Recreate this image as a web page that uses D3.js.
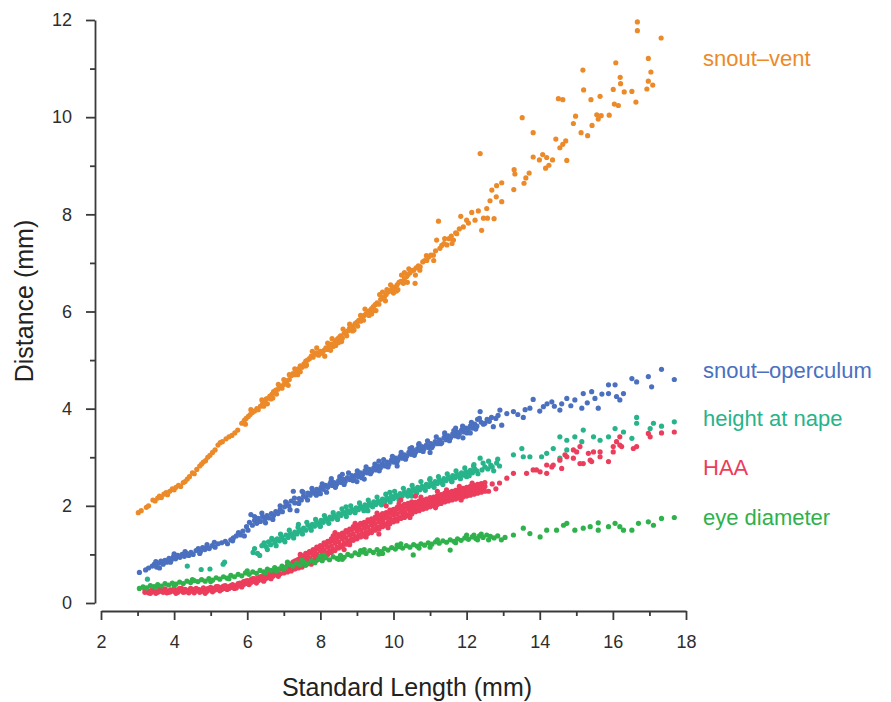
<!DOCTYPE html>
<html>
<head>
<meta charset="utf-8">
<script src="https://cdn.jsdelivr.net/npm/d3@7"></script>
<style>
  body { margin: 0; background: #fff; }
  svg { display: block; font-family: "Liberation Sans", Arial, Helvetica, sans-serif; }
</style>
</head>
<body>
<svg width="891" height="702"></svg>
<script>
// readings: each row is [standard length, distance, distance, ...]
var snoutVent = [
  [3.02,1.86],[3.1,1.9],[3.24,1.97],[3.3,2.0],[3.42,2.12],[3.48,2.1],[3.55,2.16],[3.6,2.2],[3.65,2.17],
  [3.72,2.24],[3.78,2.27],[3.82,2.23],[3.88,2.3],[3.95,2.35],[4.0,2.33],[4.05,2.38],[4.12,2.42],[4.18,2.4],
  [4.25,2.48],[4.3,2.5],[4.36,2.55],[4.42,2.6],[4.5,2.68],[4.55,2.66],[4.62,2.75],[4.7,2.82],[4.75,2.86],
  [4.8,2.9],[4.86,2.93],[4.92,3.0],[4.98,3.04],[5.05,3.1],[5.12,3.15],[5.2,3.25],[5.26,3.3],[5.32,3.32],
  [5.42,3.38],[5.5,3.42],[5.58,3.45],[5.66,3.5],[5.74,3.56],[5.85,3.7],[5.92,3.76],[5.95,3.68],[5.97,3.8],
  [6.03,3.84],[6.08,3.88],[6.1,3.98],[6.14,3.92],[6.2,3.95],[6.26,4.0],[6.3,3.98],[6.36,4.05],[6.4,4.18],
  [6.42,4.1],[6.45,4.05],[6.48,4.14],[6.52,4.2],[6.55,4.1],[6.58,4.22],[6.62,4.26],[6.65,4.2],[6.68,4.3],
  [6.7,4.22],[6.72,4.35],[6.78,4.38],[6.8,4.3],[6.84,4.4],[6.85,4.5],[6.9,4.46],[6.95,4.42],[7.0,4.5,4.6],
  [7.05,4.55],[7.1,4.58],[7.12,4.48],[7.15,4.6,4.7],[7.2,4.68],[7.25,4.72],[7.3,4.7,4.82],[7.35,4.78],
  [7.38,4.7],[7.4,4.82],[7.45,4.88,4.76],[7.5,4.85],[7.55,4.92],[7.6,4.98,4.88],[7.62,4.9],[7.65,5.0],
  [7.7,5.03],[7.75,5.08],[7.78,5.18],[7.8,5.06],[7.85,5.12],[7.9,5.15,5.25],[7.95,5.1],[8.0,5.18],
  [8.05,5.14],[8.1,5.2],[8.12,5.08],[8.15,5.25],[8.2,5.22,5.35],[8.25,5.3],[8.28,5.2],[8.3,5.33],
  [8.32,5.44],[8.35,5.28],[8.4,5.38],[8.42,5.3],[8.45,5.42],[8.5,5.46,5.36],[8.55,5.5],[8.58,5.38],
  [8.6,5.45],[8.62,5.64],[8.65,5.55],[8.7,5.58],[8.72,5.5],[8.75,5.6],[8.8,5.66,5.74],[8.85,5.62],
  [8.88,5.6],[8.9,5.7],[8.92,5.62],[8.95,5.75],[9.0,5.78],[9.02,5.7],[9.05,5.82],[9.1,5.8,5.92],
  [9.15,5.88],[9.18,5.82],[9.2,5.92],[9.22,6.05],[9.25,5.95],[9.3,6.0],[9.33,5.92],[9.35,6.02],
  [9.4,6.06,5.95],[9.45,6.1],[9.48,6.02],[9.5,6.14],[9.52,6.02],[9.55,6.18],[9.6,6.15],[9.62,6.35],
  [9.65,6.25],[9.7,6.28,6.4],[9.75,6.3],[9.78,6.22],[9.8,6.35],[9.82,6.45],[9.85,6.4],[9.9,6.42],
  [9.92,6.55],[9.95,6.46],[10.0,6.5,6.38],[10.05,6.48],[10.08,6.42],[10.1,6.55],[10.12,6.45],[10.15,6.6],
  [10.2,6.62],[10.22,6.75],[10.27,6.58],[10.3,6.68,6.8],[10.36,6.72],[10.38,6.6],[10.4,6.76],[10.42,6.88],
  [10.45,6.8],[10.5,6.84],[10.55,6.85],[10.59,6.58],[10.6,6.75],[10.62,6.9],[10.68,6.94],[10.72,6.85],
  [10.73,6.92],[10.8,7.02],[10.85,7.05],[10.9,7.15],[10.91,7.05],[10.96,7.12],[11.02,7.16],[11.09,7.16],
  [11.1,7.05],[11.15,7.25],[11.18,7.47],[11.23,7.86],[11.27,7.3],[11.32,7.36],[11.38,7.4],[11.4,7.5],
  [11.46,7.37],[11.52,7.5],[11.58,7.55],[11.6,7.4],[11.64,7.47],[11.7,7.62],[11.73,7.6],[11.8,7.7],
  [11.84,7.96],[11.91,7.74],[12.0,7.88],[12.05,7.82],[12.14,8.04],[12.23,7.88],[12.32,8.07],[12.37,9.25],
  [12.41,7.67],[12.46,7.92],[12.55,8.12],[12.57,7.92],[12.64,8.28],[12.69,8.5],[12.75,7.91],[12.81,8.36],
  [12.82,8.59],[12.96,8.65,8.26],[13.29,8.51],[13.3,8.92],[13.32,8.83],[13.52,9.99],[13.57,8.64],
  [13.62,8.75],[13.71,8.85],[13.82,9.68,9.18],[13.99,9.12],[14.08,9.23],[14.16,8.95],[14.19,9.17],
  [14.25,9.01],[14.35,9.12],[14.44,9.55],[14.51,10.38],[14.55,9.37],[14.63,10.36,9.44],[14.71,9.51],
  [14.74,9.11],[14.92,9.87],[14.98,10.02],[15.13,9.68],[15.18,10.97],[15.2,10.56],[15.31,9.62],
  [15.4,10.36],[15.43,9.83],[15.56,10.05],[15.6,9.96],[15.65,10.43],[15.68,10.03],[15.9,10.04],
  [16.01,10.57],[16.04,10.27],[16.08,11.12],[16.15,10.24],[16.2,10.82],[16.21,10.69],[16.31,10.52],
  [16.52,10.53],[16.63,10.31],[16.67,11.96,11.78],[16.93,10.58],[16.97,11.21,10.74],[17.04,10.93],
  [17.09,10.66],[17.32,11.63]
];

var snoutOperculum = [
  [3.05,0.63],[3.22,0.68],[3.3,0.72],[3.4,0.76],[3.46,0.8],[3.5,0.85],[3.52,0.74],[3.58,0.82],[3.6,0.72],
  [3.64,0.86],[3.7,0.8],[3.75,0.88],[3.8,0.84],[3.86,0.92],[3.9,0.84],[3.92,0.88],[3.98,0.95],[4.0,1.01],
  [4.04,0.91],[4.1,0.98],[4.16,0.94],[4.22,1.0],[4.28,0.96],[4.3,1.06],[4.34,1.02],[4.4,0.98],[4.46,1.04],
  [4.52,1.0],[4.6,1.08],[4.66,1.12],[4.7,1.02],[4.72,1.06],[4.78,1.14],[4.84,1.1],[4.9,1.16,1.2],
  [4.96,1.12],[5.04,1.18],[5.1,1.25],[5.12,1.15],[5.2,1.22],[5.3,1.24],[5.4,1.27],[5.46,1.22],[5.55,1.3],
  [5.6,1.28],[5.62,1.34],[5.7,1.38],[5.76,1.45],[5.82,1.4],[5.88,1.48],[5.92,1.38],[5.98,1.57],[6.02,1.5],
  [6.06,1.66],[6.1,1.82],[6.14,1.6],[6.2,1.7,1.78],[6.26,1.64],[6.3,1.74],[6.36,1.68],[6.4,1.85],
  [6.42,1.78],[6.48,1.72],[6.5,1.65],[6.54,1.8],[6.6,1.75],[6.66,1.84],[6.7,1.72],[6.72,1.8],[6.78,1.88],
  [6.84,1.84],[6.9,1.92,2.0],[6.96,1.88],[7.02,1.98],[7.05,2.08],[7.08,2.05],[7.14,2.0],[7.17,1.92],
  [7.2,2.1],[7.26,2.3],[7.29,2.16],[7.3,2.06],[7.36,1.9],[7.41,2.05],[7.42,2.15],[7.48,2.12],[7.5,2.3],
  [7.53,2.28],[7.54,2.2],[7.6,2.18],[7.65,2.12],[7.66,2.26],[7.72,2.22],[7.77,2.36],[7.78,2.3],[7.84,2.26],
  [7.89,2.22],[7.9,2.34],[7.96,2.3],[8.0,2.25],[8.02,2.38],[8.05,2.45],[8.08,2.34],[8.14,2.42],[8.17,2.28],
  [8.2,2.38],[8.26,2.45],[8.29,2.5],[8.3,2.56],[8.32,2.42],[8.38,2.48],[8.41,2.38],[8.44,2.44],[8.5,2.52],
  [8.53,2.6],[8.56,2.48],[8.6,2.65],[8.62,2.55],[8.65,2.44],[8.68,2.5],[8.74,2.58],[8.77,2.68],[8.8,2.54],
  [8.86,2.62],[8.89,2.52],[8.92,2.58],[8.98,2.64],[9.0,2.5],[9.01,2.72],[9.04,2.6],[9.1,2.68],[9.13,2.58],
  [9.16,2.65],[9.2,2.55],[9.22,2.72],[9.25,2.8],[9.28,2.68],[9.34,2.75],[9.37,2.66],[9.4,2.7],[9.46,2.78],
  [9.49,2.86],[9.52,2.74],[9.58,2.82],[9.6,2.92],[9.61,2.72],[9.64,2.78],[9.7,2.86],[9.73,2.95],[9.76,2.82],
  [9.82,2.9],[9.85,2.8],[9.88,2.86],[9.94,2.94],[9.97,3.02],[10.0,2.9],[10.06,2.98],[10.09,2.88],
  [10.1,2.82],[10.12,2.94],[10.18,3.02],[10.21,3.1],[10.24,2.98],[10.3,3.05],[10.33,2.96],[10.36,3.02],
  [10.42,3.1],[10.45,3.18],[10.48,3.06],[10.5,3.2],[10.54,3.14],[10.57,3.04],[10.6,3.1],[10.66,3.18],
  [10.69,3.26],[10.7,3.28],[10.72,3.14],[10.78,3.22],[10.81,3.12],[10.84,3.18],[10.9,3.25],[10.93,3.34],
  [10.96,3.2],[11.0,3.1],[11.02,3.28],[11.05,3.2],[11.08,3.24],[11.14,3.32],[11.17,3.42],[11.2,3.28],
  [11.26,3.36],[11.29,3.28],[11.32,3.3],[11.38,3.4],[11.4,3.5],[11.41,3.46],[11.44,3.36],[11.5,3.44],
  [11.53,3.34],[11.56,3.4],[11.62,3.48],[11.65,3.55],[11.68,3.44],[11.7,3.6],[11.74,3.52],[11.77,3.42],
  [11.8,3.48],[11.86,3.56],[11.89,3.64],[11.9,3.4],[11.92,3.52],[11.98,3.6],[12.01,3.5],[12.04,3.56],
  [12.1,3.64,3.5],[12.13,3.72],[12.16,3.6],[12.22,3.68],[12.25,3.58],[12.28,3.64],[12.3,3.78],
  [12.35,3.8],[12.37,3.94],[12.4,3.72],[12.46,3.68],[12.5,3.7],[12.56,3.78],[12.62,3.74],[12.68,3.82],
  [12.73,3.63],[12.8,3.8],[12.86,3.86],[12.91,3.97],[12.96,3.66],[13.1,3.9],[13.28,3.94],[13.4,3.88],
  [13.55,3.82],[13.6,3.98],[13.73,4.01],[13.82,4.19],[14.0,3.95],[14.1,4.04],[14.2,4.1],[14.33,4.14],
  [14.4,4.05],[14.55,3.97],[14.6,4.1],[14.74,4.21],[14.85,4.06],[14.96,4.18],[15.15,4.01],[15.19,4.31],
  [15.3,4.12],[15.42,4.35],[15.51,4.21],[15.6,4.01],[15.7,4.3],[15.88,4.49,4.31],[16.06,4.49],[16.1,4.25],
  [16.19,4.18],[16.29,4.31],[16.52,4.62],[16.65,4.55],[16.97,4.66],[17.06,4.45],[17.33,4.81],[17.68,4.6]
];

var heightAtNape = [
  [3.27,0.49],[4.36,0.76],[4.74,0.69],[4.98,0.7],[5.34,0.8],[5.38,0.84],[6.16,1.04],[6.2,1.12],[6.28,1.02],
  [6.34,0.98],[6.4,1.18],[6.46,1.24],[6.52,1.16],[6.55,1.1],[6.58,1.26],[6.64,1.2],[6.67,1.33],[6.7,1.3],
  [6.76,1.24],[6.79,1.18],[6.82,1.32],[6.88,1.28],[6.91,1.42],[6.94,1.36],[7.0,1.3],[7.03,1.26],[7.06,1.4],
  [7.12,1.35],[7.15,1.5],[7.18,1.43],[7.24,1.38],[7.27,1.34],[7.3,1.46],[7.36,1.42],[7.39,1.56],[7.4,1.62],
  [7.42,1.5],[7.48,1.46],[7.51,1.42],[7.54,1.54],[7.6,1.5],[7.63,1.66],[7.66,1.6],[7.72,1.55],[7.75,1.5],
  [7.78,1.62],[7.84,1.58],[7.87,1.72],[7.9,1.66],[7.96,1.62],[7.99,1.58],[8.0,1.58],[8.02,1.7],[8.08,1.66],
  [8.11,1.8],[8.14,1.74],[8.2,1.7],[8.23,1.64],[8.26,1.77],[8.32,1.73],[8.35,1.86],[8.38,1.8],[8.44,1.76],
  [8.47,1.72],[8.5,1.84],[8.56,1.8],[8.59,1.94],[8.62,1.87],[8.68,1.83],[8.7,1.98],[8.71,1.78],[8.74,1.9],
  [8.8,1.86],[8.83,2.0],[8.86,1.93],[8.92,1.89],[8.95,1.86],[8.98,1.96],[9.04,1.92],[9.07,2.06],[9.1,1.99],
  [9.16,1.95],[9.19,1.9],[9.22,2.02],[9.28,1.98],[9.3,1.9],[9.31,2.12],[9.34,2.05],[9.4,2.0],[9.43,1.98],
  [9.46,2.08],[9.52,2.03],[9.55,2.18],[9.58,2.1],[9.64,2.06],[9.67,2.02],[9.7,2.14],[9.76,2.09],[9.79,2.24],
  [9.82,2.16],[9.88,2.12],[9.9,2.28],[9.91,2.08],[9.94,2.2],[10.0,2.15],[10.03,2.3],[10.06,2.22],
  [10.12,2.18],[10.15,2.12],[10.18,2.25],[10.24,2.2],[10.27,2.36],[10.3,2.28],[10.36,2.24],[10.39,2.2],
  [10.42,2.32],[10.48,2.27],[10.5,2.2],[10.51,2.42],[10.54,2.35],[10.6,2.3],[10.63,2.26],[10.66,2.38],
  [10.72,2.33],[10.75,2.5],[10.78,2.4],[10.84,2.36],[10.87,2.32],[10.9,2.44],[10.96,2.4],[10.99,2.54],
  [11.0,2.56],[11.02,2.47],[11.08,2.42],[11.11,2.38],[11.14,2.5],[11.2,2.46],[11.23,2.6],[11.26,2.53],
  [11.32,2.48],[11.35,2.44],[11.38,2.56],[11.44,2.52],[11.47,2.66],[11.5,2.59],[11.56,2.55],[11.59,2.5],
  [11.6,2.5],[11.62,2.62],[11.68,2.58],[11.71,2.72],[11.74,2.65],[11.8,2.6],[11.83,2.56],[11.86,2.68],
  [11.92,2.63],[11.95,2.78],[11.98,2.7],[12.0,2.6],[12.04,2.66],[12.07,2.62],[12.1,2.73],[12.16,2.68],
  [12.19,2.82],[12.2,2.85],[12.22,2.76],[12.28,2.72],[12.31,2.66],[12.37,2.98],[12.42,2.74],[12.45,2.88],
  [12.5,2.8],[12.58,2.76],[12.6,2.92],[12.66,2.84],[12.7,2.8],[12.74,2.72],[12.82,2.88],[12.85,2.96],
  [12.9,2.82],[13.28,3.05],[13.51,3.18],[13.55,3.01],[13.73,3.01],[14.05,3.01],[14.19,3.08],[14.37,3.18],
  [14.55,3.42,2.98],[14.74,3.35,3.15],[14.96,3.42],[15.15,3.32],[15.19,3.56],[15.47,3.42],[15.65,3.35],
  [15.88,3.42],[16.06,3.59],[16.29,3.52],[16.52,3.39],[16.65,3.82,3.7],[17.02,3.59],[17.11,3.7],
  [17.33,3.64],[17.68,3.73]
];

var haa = [
  [3.2,0.22,0.28],[3.25,0.24],[3.3,0.25,0.21],[3.35,0.2],[3.4,0.23,0.27],[3.45,0.28],[3.5,0.2,0.26],
  [3.55,0.22],[3.6,0.24,0.28],[3.65,0.25],[3.7,0.22,0.26],[3.75,0.29],[3.8,0.25,0.21],[3.85,0.22],
  [3.9,0.27,0.23],[3.95,0.26],[4.0,0.24,0.29],[4.05,0.2],[4.1,0.22,0.27],[4.15,0.3],[4.2,0.25,0.3],
  [4.25,0.22],[4.3,0.23,0.28],[4.35,0.26],[4.4,0.26,0.21],[4.45,0.3],[4.5,0.28,0.24],[4.55,0.21],
  [4.6,0.25,0.3],[4.65,0.28],[4.7,0.22,0.27],[4.75,0.24],[4.8,0.26,0.31],[4.85,0.2],[4.9,0.29,0.24],
  [4.95,0.3],[5.0,0.27,0.32],[5.05,0.23],[5.1,0.3,0.26],[5.15,0.34],[5.2,0.28,0.34],[5.25,0.25],
  [5.3,0.32,0.28],[5.35,0.35],[5.4,0.3,0.36],[5.45,0.28],[5.5,0.34,0.3],[5.55,0.36],[5.6,0.32,0.38],
  [5.65,0.3],[5.7,0.36,0.31],[5.75,0.4],[5.8,0.35,0.41],[5.85,0.33],[5.9,0.38,0.44],[5.95,0.45],
  [6.0,0.4,0.46],[6.05,0.38],[6.1,0.42,0.48],[6.15,0.5],[6.2,0.44,0.5],[6.25,0.41],[6.3,0.46,0.52],
  [6.35,0.54],[6.4,0.48,0.55],[6.45,0.45],[6.5,0.5,0.57],[6.55,0.6],[6.6,0.52,0.6],[6.65,0.5],
  [6.7,0.55,0.62],[6.75,0.64],[6.8,0.58,0.66],[6.85,0.55],[6.9,0.6,0.7],[6.95,0.72],[7.0,0.62,0.73],
  [7.1,0.64,0.71,0.77],[7.15,0.67,0.8],[7.2,0.66,0.75,0.8],[7.25,0.7,0.84],[7.3,0.7,0.77,0.86],
  [7.35,0.73,0.88],[7.4,0.72,0.83,0.9],[7.45,0.76,0.93,1.0],[7.5,0.74,0.86,0.97],[7.55,0.8,0.96],
  [7.6,0.78,0.91,1.02],[7.65,0.84,1.0],[7.7,0.82,0.93,1.06],[7.75,0.88,1.04,0.8],[7.8,0.85,0.99,1.1],
  [7.85,0.92,1.08],[7.9,0.88,1.01,1.15],[7.95,0.95,1.12],[8.0,0.93,1.07,1.18],[8.05,1.0,1.16,0.9],
  [8.1,0.96,1.09,1.24],[8.15,1.03,1.2],[8.2,1.0,1.15,1.27],[8.25,1.07,1.25],[8.3,1.04,1.17,1.32],
  [8.35,1.1,1.28,1.38],[8.4,1.08,1.23,1.35,1.45],[8.45,1.15,1.33],[8.5,1.13,1.26,1.41],[8.55,1.19,1.37],
  [8.6,1.16,1.32,1.44],[8.65,1.24,1.41,1.1],[8.7,1.21,1.34,1.49],[8.75,1.28,1.46],[8.8,1.24,1.4,1.52,1.2],
  [8.85,1.32,1.5],[8.9,1.29,1.42,1.57],[8.95,1.36,1.54,1.64],[9.0,1.32,1.48,1.6],[9.05,1.4,1.57],
  [9.1,1.36,1.5,1.64],[9.15,1.43,1.6],[9.2,1.38,1.54,1.66],[9.25,1.46,1.63,1.36],[9.3,1.43,1.56,1.71],
  [9.35,1.49,1.67],[9.4,1.45,1.61,1.73],[9.45,1.53,1.7],[9.5,1.5,1.63,1.77],[9.55,1.56,1.74,1.85],
  [9.6,1.52,1.68,1.8,1.42],[9.65,1.6,1.76],[9.7,1.57,1.7,1.84],[9.75,1.63,1.8],[9.8,1.6,1.75,1.86,2.0],
  [9.85,1.66,1.84,1.55],[9.9,1.63,1.76,1.91],[9.95,1.7,1.86],[10.0,1.67,1.81,1.93],[10.05,1.73,1.9],
  [10.1,1.69,1.83,1.97],[10.15,1.76,1.93,2.04],[10.2,1.74,1.87,1.99,2.12],[10.25,1.79,1.95],
  [10.3,1.76,1.88,2.03],[10.35,1.82,1.98],[10.4,1.8,1.93,2.05],[10.45,1.86,2.01,1.76],[10.5,1.83,1.95,2.08],
  [10.55,1.9,2.03],[10.6,1.88,1.97,2.07,2.2],[10.65,1.92,2.05],[10.7,1.9,2.01,2.1],[10.75,1.95,2.07,2.18],
  [10.8,1.93,2.02,2.12],[10.85,1.97,2.1],[10.9,1.95,2.06,2.14],[10.95,2.0,2.12],[11.0,1.98,2.07,2.17],
  [11.05,2.02,2.15],[11.1,2.0,2.11,2.18],[11.15,2.05,2.17,1.96],[11.2,2.03,2.12,2.21,2.3],[11.25,2.07,2.19],
  [11.3,2.05,2.15,2.23],[11.35,2.1,2.22],[11.4,2.08,2.17,2.26],[11.45,2.12,2.24,2.33],[11.5,2.1,2.2,2.28],
  [11.55,2.14,2.26],[11.6,2.12,2.21,2.3],[11.65,2.16,2.28],[11.7,2.14,2.24,2.32],[11.75,2.18,2.3],
  [11.8,2.16,2.25,2.34,2.4],[11.85,2.2,2.32,2.12],[11.9,2.18,2.28,2.36],[11.95,2.22,2.34],[12.0,2.2,2.29,2.38],
  [12.05,2.24,2.36],[12.1,2.22,2.32,2.4],[12.15,2.26,2.39,2.47],[12.2,2.24,2.33,2.42],[12.25,2.28,2.4],
  [12.3,2.26,2.36,2.44],[12.35,2.3,2.42],[12.4,2.28,2.37,2.46],[12.45,2.32,2.44],[12.5,2.3,2.4,2.48],
  [12.6,2.3],[12.7,2.45],[12.8,2.35],[12.9,2.47],[13.1,2.57],[13.28,2.67],[13.64,2.67],[13.82,2.74],
  [13.91,2.74],[14.01,2.7],[14.19,2.84,2.67],[14.33,2.8],[14.37,2.84],[14.55,2.94],[14.6,2.77],[14.69,3.05],
  [14.74,3.01],[14.92,2.98,3.15],[15.01,3.11],[15.1,2.87,3.22],[15.19,2.87],[15.33,3.08],[15.38,2.94],
  [15.42,2.91],[15.47,3.11],[15.65,3.11,3.01],[15.88,2.91],[16.01,3.11,3.22],[16.1,3.32],[16.19,3.42,3.25],
  [16.24,3.22],[16.56,3.18],[16.65,3.22],[16.97,3.49],[17.02,3.42],[17.33,3.5],[17.68,3.52]
];

var eyeDiameter = [
  [3.05,0.3],[3.15,0.33],[3.25,0.31],[3.35,0.36],[3.45,0.34],[3.5,0.32],[3.55,0.38],[3.65,0.35],[3.75,0.4],
  [3.85,0.37],[3.95,0.41],[4.0,0.36],[4.05,0.39],[4.15,0.43],[4.25,0.4],[4.35,0.45],[4.45,0.42],[4.5,0.48],
  [4.55,0.46],[4.65,0.44],[4.75,0.48],[4.85,0.45],[4.95,0.5],[5.0,0.44],[5.05,0.47],[5.15,0.52],[5.25,0.49],
  [5.35,0.54],[5.45,0.51],[5.5,0.5],[5.55,0.57],[5.65,0.54],[5.75,0.59],[5.85,0.56],[5.95,0.62],[6.0,0.66],
  [6.05,0.59],[6.15,0.64],[6.25,0.61],[6.35,0.67],[6.45,0.64],[6.5,0.62],[6.55,0.7],[6.65,0.67],[6.75,0.73],
  [6.8,0.66],[6.85,0.7],[6.95,0.76],[7.0,0.7],[7.05,0.73],[7.1,0.84],[7.15,0.79],[7.25,0.76],[7.35,0.82],
  [7.45,0.78],[7.5,0.88],[7.55,0.84],[7.6,0.78],[7.65,0.81],[7.75,0.87],[7.85,0.83],[7.95,0.9],[8.0,0.96],
  [8.05,0.87],[8.1,0.98],[8.15,0.93],[8.25,0.89],[8.35,0.95],[8.45,0.92],[8.5,0.9],[8.55,0.98],[8.6,0.9],
  [8.65,0.94],[8.75,1.0],[8.85,0.97],[8.95,1.03],[9.05,1.0],[9.1,1.08],[9.15,1.05],[9.2,1.1],[9.25,1.02],
  [9.35,1.08],[9.45,1.04],[9.55,1.1],[9.6,1.01],[9.65,1.06],[9.7,1.02],[9.75,1.12],[9.85,1.09],[9.95,1.14],
  [10.05,1.11],[10.1,1.19],[10.15,1.16],[10.2,1.22],[10.25,1.13],[10.35,1.18],[10.45,1.15],[10.54,0.99],
  [10.55,1.2],[10.65,1.17],[10.7,1.13],[10.75,1.22],[10.85,1.19],[10.95,1.24],[11.0,1.15],[11.05,1.21],
  [11.15,1.26],[11.2,1.3],[11.25,1.23],[11.35,1.28],[11.45,1.25],[11.55,1.3,1.09],[11.65,1.27],[11.7,1.24],
  [11.75,1.32],[11.85,1.29],[11.95,1.34],[12.0,1.4],[12.05,1.31],[12.15,1.36],[12.2,1.4],[12.25,1.33],
  [12.3,1.3],[12.35,1.38],[12.4,1.42],[12.45,1.35],[12.55,1.4],[12.6,1.3],[12.65,1.37],[12.75,1.34],
  [12.85,1.38],[12.95,1.3],[13.05,1.35],[13.28,1.4],[13.55,1.54],[13.73,1.43],[14.01,1.36],[14.19,1.5],
  [14.46,1.5],[14.65,1.6],[14.74,1.64],[14.96,1.5],[15.19,1.54],[15.38,1.57],[15.6,1.65,1.5],[15.88,1.57],
  [16.06,1.64],[16.19,1.57],[16.29,1.5],[16.52,1.5],[16.7,1.64],[16.97,1.67],[17.11,1.6],[17.33,1.74],
  [17.68,1.76]
];

var seriesNames = ['snout\u2013vent', 'snout\u2013operculum', 'height at nape', 'HAA', 'eye diameter'];
var seriesRows = [snoutVent, snoutOperculum, heightAtNape, haa, eyeDiameter];
var xTicks = [2, 4, 6, 8, 10, 12, 14, 16, 18];
var yTicks = [0, 2, 4, 6, 8, 10, 12];

function drawChart() {
  'use strict';
  var svg = d3.select('svg');
  var colors = ['#ec8a2a', '#4a70bf', '#27b48a', '#ec3d5c', '#2fb14c'];
  var labelY = [66, 378, 426, 475, 525];

  var x = d3.scaleLinear().domain([2, 18]).range([101, 686]);
  var y = d3.scaleLinear().domain([0, 12]).range([603, 20]);

  // minor ticks on the odd values
  var xMinor = d3.range(3, 18, 2);
  var yMinor = d3.range(1, 12, 2);

  svg.append('g')
    .attr('transform', 'translate(95,0)')
    .call(d3.axisLeft(y).tickValues(yTicks).tickSize(9).tickSizeOuter(0).tickPadding(14));
  svg.append('g')
    .attr('transform', 'translate(95,0)')
    .call(d3.axisLeft(y).tickValues(yMinor).tickSize(5).tickFormat(''))
    .select('.domain').remove();

  svg.append('g')
    .attr('transform', 'translate(0,611)')
    .call(d3.axisBottom(x).tickValues(xTicks).tickSize(9).tickSizeOuter(0).tickPadding(15));
  svg.append('g')
    .attr('transform', 'translate(0,611)')
    .call(d3.axisBottom(x).tickValues(xMinor).tickSize(5).tickFormat(''))
    .select('.domain').remove();

  svg.selectAll('.domain, .tick line')
    .style('stroke', '#3a3a3a')
    .style('stroke-width', '1.8px');
  svg.selectAll('.tick text')
    .style('font-size', '18px')
    .style('font-family', '"Liberation Sans", Arial, sans-serif')
    .style('fill', '#2e2e2e');

  svg.append('text')
    .attr('transform', 'translate(33,301) rotate(-90)')
    .attr('text-anchor', 'middle')
    .style('font-size', '25px')
    .style('fill', '#222')
    .text('Distance (mm)');

  svg.append('text')
    .attr('x', 407)
    .attr('y', 696)
    .attr('text-anchor', 'middle')
    .style('font-size', '25px')
    .style('fill', '#222')
    .text('Standard Length (mm)');

  var groups = svg.selectAll('.series')
    .data(seriesRows)
    .enter()
    .append('g')
    .attr('class', 'series')
    .style('fill', function (d, i) { return colors[i]; });

  groups.selectAll('circle')
    .data(function (rows) {
      return rows.flatMap(function (r) {
        return r.slice(1).map(function (v) { return [r[0], v]; });
      });
    })
    .enter()
    .append('circle')
    .attr('cx', function (d) { return x(d[0]); })
    .attr('cy', function (d) { return y(d[1]); })
    .attr('r', 2.6);

  svg.selectAll('.label')
    .data(seriesNames)
    .enter()
    .append('text')
    .attr('class', 'label')
    .attr('x', 703)
    .attr('y', function (d, i) { return labelY[i]; })
    .style('font-size', '22px')
    .style('fill', function (d, i) { return colors[i]; })
    .text(function (d) { return d; });
}

drawChart();
</script>
</body>
</html>
